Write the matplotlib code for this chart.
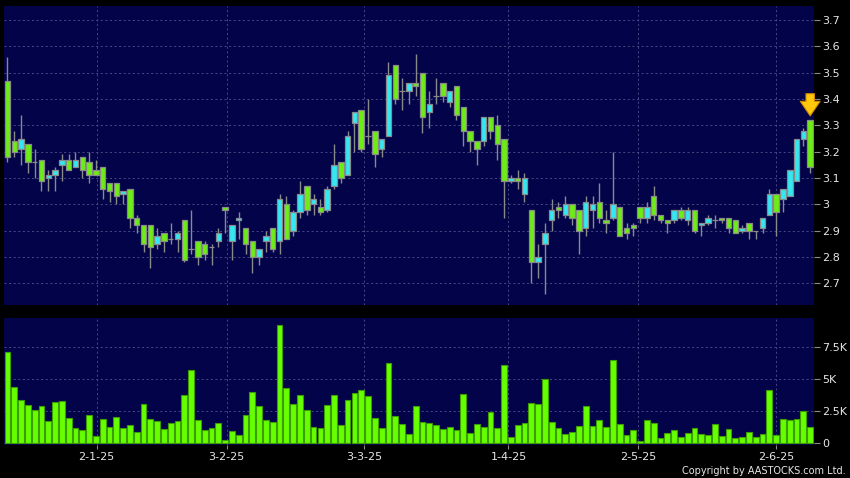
import numpy as np
import matplotlib
matplotlib.use("Agg")
import matplotlib.pyplot as plt

# =====================================================
# Data: daily OHLC + volume (K shares)
# =====================================================
opens = [3.47, 3.24, 3.21, 3.23, 3.16, 3.17, 3.10, 3.11, 3.15, 3.17,
         3.14, 3.18, 3.16, 3.13, 3.14, 3.08, 3.08, 3.04, 3.06, 2.95,
         2.92, 2.92, 2.85, 2.89, 2.87, 2.87, 2.94, 2.83, 2.86, 2.85,
         2.84, 2.86, 2.99, 2.86, 2.94, 2.91, 2.86, 2.80, 2.86, 2.91,
         2.86, 3.00, 2.90, 2.97, 3.07, 3.00, 2.99, 2.98, 3.07, 3.16,
         3.11, 3.31, 3.36, 3.26, 3.28, 3.21, 3.26, 3.53, 3.43, 3.43,
         3.46, 3.50, 3.35, 3.41, 3.46, 3.39, 3.45, 3.37, 3.28, 3.24,
         3.24, 3.33, 3.30, 3.25, 3.09, 3.10, 3.04, 2.98, 2.78, 2.85,
         2.94, 2.99, 2.96, 3.00, 2.98, 2.91, 2.98, 3.01, 2.94, 2.95,
         2.99, 2.91, 2.92, 2.99, 2.95, 3.03, 2.96, 2.94, 2.94, 2.98,
         2.94, 2.98, 2.92, 2.93, 2.94, 2.95, 2.95, 2.94, 2.90, 2.93,
         2.90, 2.91, 2.96, 3.04, 3.02, 3.03, 3.09, 3.25, 3.32]
highs = [3.56, 3.28, 3.34, 3.23, 3.21, 3.17, 3.13, 3.14, 3.19, 3.19,
         3.20, 3.18, 3.20, 3.17, 3.14, 3.08, 3.08, 3.05, 3.06, 2.96,
         2.92, 2.92, 2.91, 2.89, 2.93, 2.90, 2.94, 2.98, 2.86, 2.86,
         2.85, 2.91, 2.99, 2.92, 2.97, 2.91, 2.86, 2.83, 2.90, 2.91,
         3.04, 3.03, 2.98, 3.09, 3.07, 3.04, 3.02, 3.07, 3.23, 3.16,
         3.28, 3.35, 3.36, 3.40, 3.28, 3.25, 3.54, 3.53, 3.48, 3.46,
         3.57, 3.50, 3.43, 3.48, 3.46, 3.43, 3.45, 3.37, 3.28, 3.24,
         3.33, 3.33, 3.34, 3.25, 3.11, 3.13, 3.12, 2.98, 2.85, 2.93,
         3.02, 3.01, 3.03, 3.00, 2.98, 3.03, 3.03, 3.08, 2.98, 3.20,
         2.99, 2.93, 2.93, 2.99, 3.01, 3.07, 2.96, 2.94, 2.98, 2.99,
         2.99, 2.98, 2.93, 2.96, 2.96, 2.95, 2.95, 2.94, 2.92, 2.93,
         2.90, 2.95, 3.06, 3.04, 3.06, 3.13, 3.25, 3.29, 3.32]
lows = [3.16, 3.18, 3.15, 3.12, 3.10, 3.05, 3.05, 3.05, 3.09, 3.13,
        3.14, 3.10, 3.08, 3.11, 3.02, 3.01, 3.00, 3.00, 2.91, 2.89,
        2.82, 2.76, 2.83, 2.82, 2.85, 2.82, 2.78, 2.81, 2.77, 2.79,
        2.77, 2.84, 2.89, 2.79, 2.87, 2.81, 2.74, 2.77, 2.82, 2.82,
        2.81, 2.87, 2.88, 2.95, 2.96, 2.96, 2.96, 2.97, 3.06, 3.08,
        3.11, 3.20, 3.20, 3.23, 3.14, 3.18, 3.26, 3.38, 3.36, 3.38,
        3.41, 3.27, 3.29, 3.38, 3.39, 3.37, 3.32, 3.22, 3.20, 3.15,
        3.22, 3.25, 3.17, 2.95, 3.08, 3.06, 3.01, 2.70, 2.72, 2.66,
        2.90, 2.95, 2.95, 2.92, 2.81, 2.88, 2.91, 2.93, 2.89, 2.94,
        2.88, 2.87, 2.88, 2.93, 2.93, 2.94, 2.93, 2.89, 2.93, 2.94,
        2.92, 2.89, 2.88, 2.92, 2.91, 2.93, 2.89, 2.89, 2.89, 2.87,
        2.87, 2.89, 2.96, 2.88, 2.97, 3.03, 3.09, 3.22, 3.12]
closes = [3.18, 3.20, 3.25, 3.16, 3.16, 3.09, 3.11, 3.13, 3.17, 3.13,
          3.17, 3.13, 3.11, 3.11, 3.06, 3.05, 3.03, 3.05, 2.95, 2.92,
          2.85, 2.84, 2.88, 2.86, 2.87, 2.89, 2.79, 2.83, 2.80, 2.81,
          2.84, 2.89, 2.98, 2.92, 2.95, 2.85, 2.80, 2.83, 2.88, 2.83,
          3.02, 2.87, 2.97, 3.04, 2.98, 3.02, 2.97, 3.06, 3.15, 3.10,
          3.26, 3.35, 3.21, 3.26, 3.19, 3.25, 3.49, 3.40, 3.43, 3.46,
          3.45, 3.33, 3.38, 3.41, 3.41, 3.43, 3.34, 3.28, 3.24, 3.21,
          3.33, 3.28, 3.23, 3.09, 3.10, 3.09, 3.10, 2.78, 2.80, 2.89,
          2.98, 2.98, 3.00, 2.95, 2.90, 3.01, 3.00, 2.95, 2.93, 3.00,
          2.88, 2.89, 2.91, 2.95, 2.99, 2.96, 2.94, 2.93, 2.98, 2.95,
          2.98, 2.90, 2.93, 2.95, 2.94, 2.94, 2.91, 2.89, 2.91, 2.90,
          2.90, 2.95, 3.04, 2.97, 3.06, 3.13, 3.25, 3.28, 3.14]
volumes = [7.08, 4.35, 3.39, 2.94, 2.60, 2.86, 1.74, 3.18, 3.31, 1.98,
           1.17, 0.99, 2.16, 0.57, 1.85, 1.25, 2.06, 1.15, 1.41, 0.89,
           3.07, 1.88, 1.74, 1.09, 1.59, 1.72, 3.78, 5.70, 1.77, 1.04,
           1.20, 1.56, 0.26, 0.94, 0.60, 2.16, 3.96, 2.89, 1.77, 1.61,
           9.20, 4.27, 3.07, 3.78, 2.60, 1.25, 1.20, 3.00, 3.78, 1.41,
           3.39, 3.93, 4.17, 3.65, 1.95, 1.20, 6.25, 2.10, 1.50, 0.70,
           2.92, 1.67, 1.60, 1.40, 1.10, 1.22, 1.00, 3.85, 0.78, 1.48,
           1.28, 2.44, 1.16, 6.13, 0.50, 1.41, 1.54, 3.12, 3.07, 4.97,
           1.68, 1.20, 0.70, 0.87, 1.34, 2.92, 1.37, 1.79, 1.29, 6.50,
           1.50, 0.66, 1.00, 0.13, 1.79, 1.53, 0.42, 0.79, 1.04, 0.44,
           0.76, 1.15, 0.73, 0.65, 1.50, 0.52, 1.07, 0.36, 0.44, 0.86,
           0.50, 0.68, 4.16, 0.60, 1.91, 1.83, 1.91, 2.52, 1.23]

date_ticks = [13.1, 32.2, 52.4, 73.65, 92.75, 113.0]
date_labels = ["2-1-25", "3-2-25", "3-3-25", "1-4-25", "2-5-25", "2-6-25"]
price_ticks = [2.7, 2.8, 2.9, 3.0, 3.1, 3.2, 3.3, 3.4, 3.5, 3.6, 3.7]
price_labels = ["2.7", "2.8", "2.9", "3", "3.1", "3.2", "3.3", "3.4", "3.5", "3.6", "3.7"]
vol_ticks = [0, 2.5, 5, 7.5]
vol_labels = ["0", "2.5K", "5K", "7.5K"]

# =====================================================
# Styling
# =====================================================
BG = "#000000"
PANEL = "#03034a"
GRID = "#50508a"
UP = "#33e8f2"
DOWN = "#6cee14"
EDGE = "#8a8a8a"
TXT = "#e6e6e6"

o = np.array(opens)
h = np.array(highs)
l = np.array(lows)
c = np.array(closes)
v = np.array(volumes)
x = np.arange(len(o))

fig = plt.figure(figsize=(8.5, 4.78), dpi=100, facecolor=BG)
ax = fig.add_axes([4 / 850, 173 / 478, 810 / 850, 299 / 478], facecolor=PANEL)
axv = fig.add_axes([4 / 850, 33 / 478, 810 / 850, 127 / 478], facecolor=PANEL)

xlim = (-0.51, len(o) - 1 + 0.56)

# ---------------- candles ----------------
ax.vlines(x, l, h, color=EDGE, linewidth=1.0, zorder=2)
colors = [UP if cc > oo else DOWN for oo, cc in zip(o, c)]
ax.bar(x, np.abs(c - o), bottom=np.minimum(o, c), width=0.8,
       color=colors, edgecolor=EDGE, linewidth=0.9, zorder=3)

# marker arrow above the latest candle
ax.annotate("", xy=(x[-1], h[-1] + 0.016), xytext=(x[-1], h[-1] + 0.10),
            arrowprops=dict(arrowstyle="simple,head_length=0.55,head_width=0.75,tail_width=0.32",
                            fc="#ffc80c", ec="#d08a00", lw=0.8, mutation_scale=19,
                            shrinkA=0, shrinkB=0),
            zorder=5)

ax.set_xlim(xlim)
ax.set_ylim(2.618, 3.753)
ax.set_xticks(date_ticks)
ax.set_xticklabels([])
ax.set_yticks(price_ticks)
ax.set_yticklabels(price_labels)

# ---------------- volume ----------------
axv.bar(x, v, width=0.85, color="#66ff00", edgecolor="#3c9c00", linewidth=0.8, zorder=3)
axv.set_xlim(xlim)
axv.set_ylim(-0.15, 9.77)
axv.set_xticks(date_ticks)
axv.set_xticklabels(date_labels)
axv.set_yticks(vol_ticks)
axv.set_yticklabels(vol_labels)

for a in (ax, axv):
    a.grid(True, color=GRID, linestyle=(0, (2.5, 3)), linewidth=0.6, zorder=0)
    a.set_axisbelow(True)
    a.yaxis.tick_right()
    a.tick_params(axis="y", colors=EDGE, labelcolor=TXT, labelsize=8,
                  length=4, width=0.8, pad=2)
    a.tick_params(axis="x", colors=EDGE, labelcolor=TXT, labelsize=8,
                  length=3, width=0.8, pad=2)
    for s in a.spines.values():
        s.set_visible(False)

ax.tick_params(axis="x", length=0)

fig.text(846 / 850, 1 - 471 / 478, "Copyright by AASTOCKS.com Ltd.",
         color=TXT, fontsize=7, ha="right", va="center")

fig.savefig("out.png", dpi=100, facecolor=BG)
